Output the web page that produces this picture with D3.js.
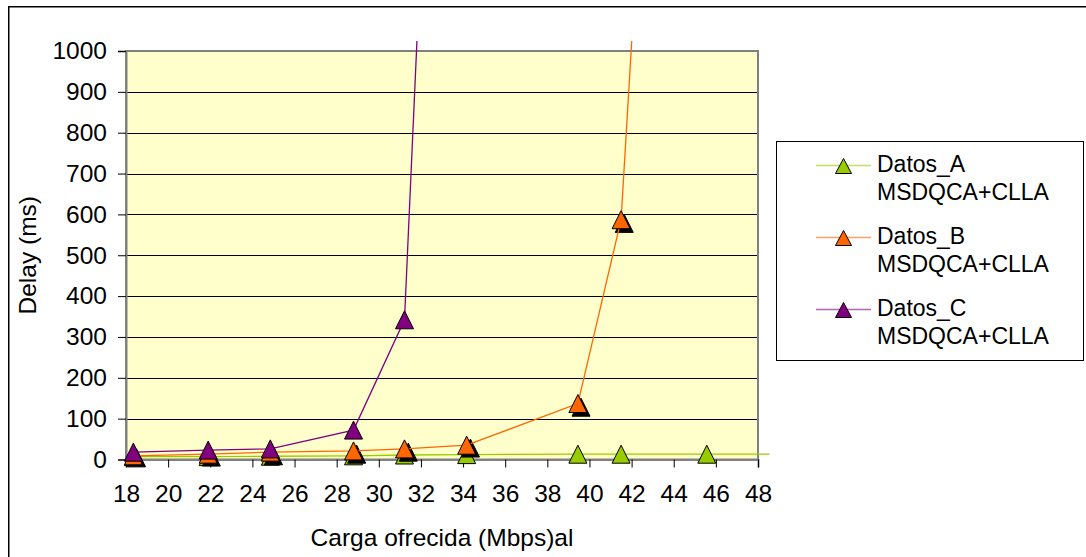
<!DOCTYPE html>
<html>
<head>
<meta charset="utf-8">
<script src="https://cdn.jsdelivr.net/npm/d3@7"></script>
<style>
  html, body { margin: 0; padding: 0; background: #fff; }
  svg { display: block; font-family: "Liberation Sans", Arial, sans-serif; }
</style>
</head>
<body>
<svg id="chart" width="1086" height="557"></svg>
<script>
// Offered load (Mbps) for each measurement
const cargaA = [18.35, 21.9, 24.85, 28.8, 31.22, 34.17, 39.45, 41.5, 45.57, 48.55];
const cargaB = [18.35, 21.9, 24.85, 28.8, 31.22, 34.17, 39.45, 41.5, 45.57];
const cargaC = [18.35, 21.9, 24.85, 28.8, 31.22, 34.17];
// Delay (ms) per series
const delayA = [7, 7, 8, 9, 11, 12, 13, 13, 13, 13];
const delayB = [9, 13, 18, 21, 26, 35, 137, 587, 4100];
const delayC = [18, 23, 26, 72, 342, 3750];
// unlabeled marker-only series sitting just behind Datos_B
const cargaD = [18.5, 22.05, 25.0, 28.95, 31.4, 34.35, 39.6, 41.65];
const delayD = [4, 6, 9, 13, 18, 28, 128, 578];

const xTicks = d3.range(18, 49, 2);
const yTicks = d3.range(0, 1001, 100);

const seriesNames = ["Datos_A", "Datos_B", "Datos_C"];
const seriesSub = "MSDQCA+CLLA";
const colors = ["#99CC00", "#FF6600", "#800080"];

const svg = d3.select("#chart");
const font = "Liberation Sans, Arial, sans-serif";

const plot = { left: 126, right: 758, top: 51, bottom: 459.5 };
const x = d3.scaleLinear().domain([18, 48]).range([plot.left, plot.right]);
const y = d3.scaleLinear().domain([0, 1000]).range([plot.bottom, plot.top]);

// outer chart frame (runs past the window on the right and bottom)
svg.append("rect")
  .attr("x", 8.75).attr("y", 6.75).attr("width", 1200).attr("height", 700)
  .attr("fill", "none").attr("stroke", "#000").attr("stroke-width", 1.5);

// plot background
svg.append("rect")
  .attr("x", plot.left).attr("y", plot.top)
  .attr("width", plot.right - plot.left).attr("height", plot.bottom - plot.top)
  .attr("fill", "#FFFFCC");

// horizontal gridlines
svg.append("g").selectAll("line")
  .data(yTicks.filter(v => v > 0 && v < 1000))
  .join("line")
  .attr("x1", plot.left).attr("x2", plot.right)
  .attr("y1", d => Math.round(y(d)) + 0.5).attr("y2", d => Math.round(y(d)) + 0.5)
  .attr("stroke", "#000").attr("stroke-width", 1);

// plot border
svg.append("rect")
  .attr("x", plot.left).attr("y", plot.top)
  .attr("width", plot.right - plot.left).attr("height", plot.bottom - plot.top)
  .attr("fill", "none").attr("stroke", "#808080").attr("stroke-width", 2);

// y axis
const yAxis = d3.axisLeft(y).tickValues(yTicks).tickSize(8).tickPadding(11).tickFormat(d3.format("d"));
const gy = svg.append("g").attr("transform", `translate(${plot.left},0)`).call(yAxis);
gy.select(".domain").attr("stroke", "#808080").attr("stroke-width", 2);
gy.selectAll(".tick line").attr("stroke", "#000");
gy.selectAll(".tick text").attr("font-family", font).attr("font-size", 24.5).attr("fill", "#000");

// x axis
const xAxis = d3.axisBottom(x).tickValues(xTicks).tickSize(8).tickPadding(17).tickFormat(d3.format("d"));
const gx = svg.append("g").attr("transform", `translate(0,${plot.bottom})`).call(xAxis);
gx.select(".domain").attr("stroke", "#808080").attr("stroke-width", 2);
gx.selectAll(".tick line").attr("stroke", "#000");
gx.selectAll(".tick text").attr("font-family", font).attr("font-size", 24.5).attr("fill", "#000");

// axis titles
svg.append("text")
  .attr("x", (plot.left + plot.right) / 2).attr("y", 546)
  .attr("text-anchor", "middle").attr("font-family", font).attr("font-size", 24.5)
  .text("Carga ofrecida (Mbps)al");
svg.append("text")
  .attr("transform", `translate(36,${(plot.top + plot.bottom) / 2}) rotate(-90)`)
  .attr("text-anchor", "middle").attr("font-family", font).attr("font-size", 24.5)
  .text("Delay (ms)");

// lines may run a little above the plot, then get cut off
svg.append("clipPath").attr("id", "lineClip")
  .append("rect").attr("x", 0).attr("y", 41).attr("width", 1086).attr("height", 520);

const tri = (w, h) => `M0,${-h / 2}L${w / 2},${h / 2}L${-w / 2},${h / 2}Z`;
const line = d3.line().x(d => x(d[0])).y(d => y(d[1]));
const inside = d => d[0] >= 18 && d[0] <= 48 && d[1] >= 0 && d[1] <= 1000;

function drawSeries(xs, ys, color, withLine) {
  const pts = xs.map((v, i) => [v, ys[i]]);
  const g = svg.append("g");
  if (withLine) {
    g.append("path").datum(pts)
      .attr("d", line).attr("fill", "none")
      .attr("stroke", color).attr("stroke-width", 1.3)
      .attr("clip-path", "url(#lineClip)");
  }
  g.selectAll("path.m").data(pts.filter(inside)).join("path")
    .attr("class", "m")
    .attr("d", tri(18, 18))
    .attr("transform", d => `translate(${x(d[0])},${y(d[1])})`)
    .attr("fill", color).attr("stroke", "#000").attr("stroke-width", 1);
}

drawSeries(cargaA, delayA, colors[0], true);
drawSeries(cargaD, delayD, "#000000", false);
drawSeries(cargaB, delayB, colors[1], true);
drawSeries(cargaC, delayC, colors[2], true);

// legend
const lg = svg.append("g");
lg.append("rect")
  .attr("x", 776.5).attr("y", 141.5).attr("width", 307).attr("height", 219)
  .attr("fill", "#fff").attr("stroke", "#000").attr("stroke-width", 1);
const legendY = [165.5, 237.5, 309.5];
seriesNames.forEach((name, i) => {
  const ly = legendY[i];
  lg.append("line")
    .attr("x1", 816).attr("x2", 871).attr("y1", ly).attr("y2", ly)
    .attr("stroke", colors[i]).attr("stroke-width", 1.3).attr("opacity", 0.6);
  lg.append("path")
    .attr("d", tri(16, 15))
    .attr("transform", `translate(843.5,${ly + 0.5})`)
    .attr("fill", colors[i]).attr("stroke", "#000").attr("stroke-width", 1);
  lg.append("text")
    .attr("x", 877).attr("y", ly + 6.5)
    .attr("font-family", font).attr("font-size", 23)
    .text(name);
  lg.append("text")
    .attr("x", 877).attr("y", ly + 34)
    .attr("font-family", font).attr("font-size", 23)
    .text(seriesSub);
});
</script>
</body>
</html>
